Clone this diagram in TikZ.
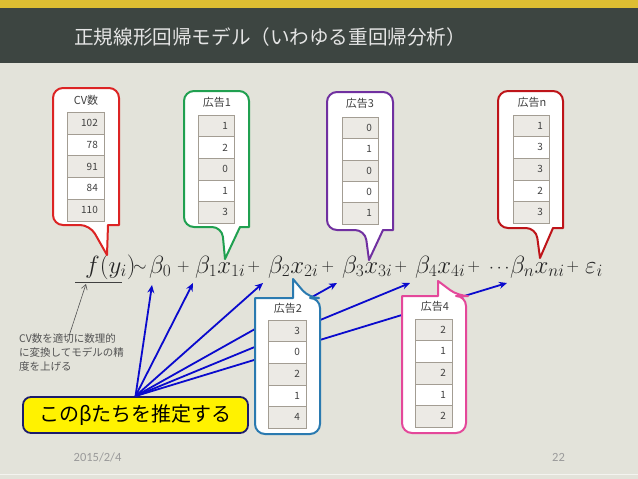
\documentclass[tikz,border=0pt]{standalone}
\usepackage{fontspec}
\setmainfont{Carlito}
\newfontfamily\jp{Noto Sans CJK JP}
\usetikzlibrary{arrows.meta}
\definecolor{bg}{HTML}{E3E3DA}
\definecolor{board}{HTML}{3D4541}
\definecolor{band}{HTML}{DEBE32}
\definecolor{cellgray}{HTML}{ECEAE5}
\definecolor{cellline}{HTML}{A39D93}
\definecolor{txt}{HTML}{404040}
\definecolor{cRed}{HTML}{DC2424}
\definecolor{cDRed}{HTML}{BE1419}
\definecolor{cGreen}{HTML}{20A050}
\definecolor{cPurple}{HTML}{7030A0}
\definecolor{cBlue}{HTML}{2A7AB0}
\definecolor{cPink}{HTML}{E4489A}
\definecolor{arrblue}{HTML}{0A0ACD}
\definecolor{navy}{HTML}{1C1C6C}
\definecolor{foot}{HTML}{9A9A9A}
\tikzset{
  bubble/.style={fill=white, line width=2pt, line join=round},
  cellb/.style={draw=cellline, line width=0.6pt},
  celltext/.style={inner sep=0pt, font=\jp\fontsize{10}{12}\selectfont, text=txt},
  head/.style={inner sep=0pt, font=\jp\fontsize{11}{13}\selectfont, text=txt},
  fterm/.style={inner sep=0pt, anchor=base west, text=black!85, font=\fontsize{23}{26}\selectfont},
  fop/.style={inner sep=0pt, anchor=base west, text=black!85, font=\fontsize{18}{20}\selectfont},
  barrow/.style={draw=arrblue, line width=1.8pt, -{Stealth[length=8pt,width=7pt]}},
  ybox/.style={draw=navy, line width=1.8pt, fill=yellow, rounded corners=8pt,
    minimum width=225pt, minimum height=36pt, inner sep=0pt,
    font=\jp\fontsize{20}{24}\selectfont, text=black},
}
% table: name, xl, xr, ytop, rowh, values
\newcommand{\datatab}[6]{%
  \foreach \v [count=\k] in {#6} {
    \pgfmathsetmacro{\ya}{#4+(\k-1)*#5}
    \pgfmathsetmacro{\yb}{#4+\k*#5}
    \pgfmathtruncatemacro{\odd}{mod(\k,2)}
    \ifnum\odd=1 \def\cf{cellgray}\else\def\cf{white}\fi
    \draw[cellb, fill=\cf] (#2,\ya) rectangle (#3,\yb);
    \node[celltext, anchor=east] (#1-\k) at (#3-6, {(\ya+\yb)/2}) {\v};
  }}
% down-pointing bubble: color, x1,y1,x2,y2, bx1,bx2,tipx,tipy
\newcommand{\bubbledown}[9]{%
  \draw[bubble, draw=#1] (#8,#9) -- (#7,#5) -- (#4,#5) [rounded corners=10pt] -- (#4,#3) -- (#2,#3) -- (#2,#5) -- (#6,#5) [sharp corners] -- cycle;}
% up-pointing bubble: color, x1,y1,x2,y2, bx1,bx2,tipx,tipy
\newcommand{\bubbleup}[9]{%
  \draw[bubble, draw=#1] (#8,#9) -- (#6,#3) -- (#2,#3) [rounded corners=10pt] -- (#2,#5) -- (#4,#5) -- (#4,#3) -- (#7,#3) [sharp corners] -- cycle;}
\begin{document}
\begin{tikzpicture}[x=1pt,y=-1pt]
\useasboundingbox (0,0) rectangle (638,479);
% background
\fill[bg] (0,0) rectangle (638,479);
\fill[band] (0,0) rectangle (638,7.5);
\fill[board] (0,7.5) rectangle (638,63);
\draw[white!60!bg, line width=1pt] (0,474) -- (638,474);
\node[anchor=west, inner sep=0pt, text=white!90!black, font=\jp\fontsize{19.6}{22}\selectfont] (title) at (74,37) {正規線形回帰モデル（いわゆる重回帰分析）};

% formula
\node[fterm] (fy) at (85,273) {$f(y_i)$};
\node[fop] (sim) at (133,271) {$\sim$};
\node[fterm] (b0) at (149,273) {$\beta_0$};
\node[fop] (p1) at (177,271.5) {$+$};
\node[fterm] (b1) at (195,273) {$\beta_1x_{1i}$};
\node[fop] (p2) at (247.5,271.5) {$+$};
\node[fterm] (b2) at (268,273) {$\beta_2x_{2i}$};
\node[fop] (p3) at (321.5,271.5) {$+$};
\node[fterm] (b3) at (342,273) {$\beta_3x_{3i}$};
\node[fop] (p4) at (394.5,271.5) {$+$};
\node[fterm] (b4) at (415,273) {$\beta_4x_{4i}$};
\node[fop] (p5) at (467.5,271.5) {$+$};
\node[fop] (dots) at (489,272) {$\cdots$};
\node[fterm] (bn) at (510,273) {$\beta_nx_{ni}$};
\node[fop] (p6) at (566.5,271.5) {$+$};
\node[fterm] (eps) at (585,273) {$\varepsilon_i$};
\draw[txt, line width=0.8pt] (75,282) -- (122,282);

% annotation
\node[anchor=north west, inner sep=0pt, align=left, text=txt!90!white,
  font=\jp\fontsize{10.5}{14}\selectfont] (note) at (19,333)
  {CV数を適切に数理的\\に変換してモデルの精\\度を上げる};
\coordinate (noteA) at (69,336);
\coordinate (noteB) at (86,284);
\draw[txt!90!white, line width=0.6pt, -{Straight Barb[length=5pt,width=6pt]}] (noteA) -- (noteB);

% estimate box and arrows
\coordinate (t0) at (152,285);
\coordinate (t1) at (193,283);
\coordinate (t2) at (263,283);
\coordinate (t3) at (337,283);
\coordinate (t4) at (410,283);
\coordinate (tn) at (507,283);
\node[ybox] (est) at (135.5,415) {このβたちを推定する};
\foreach \t in {t0,t1,t2,t3,t4,tn} \draw[barrow] (est.north) -- (\t);

% top bubbles
\bubbledown{cRed}{53}{88}{119}{225}{90}{108}{107}{255}
\node[head] (hcv) at (86,100) {CV数};
\datatab{cv}{67}{104}{112}{21.8}{102,78,91,84,110}

\bubbledown{cGreen}{184}{91}{249}{227}{222}{240}{225}{259}
\node[head] (h1) at (217,102) {広告1};
\datatab{a1}{198}{234}{115}{21.6}{1,2,0,1,3}

\bubbledown{cPurple}{327}{92}{393}{230}{365}{383}{369}{260}
\node[head] (h3) at (360,103) {広告3};
\datatab{a3}{342}{378}{117}{21.4}{0,1,0,0,1}

\bubbledown{cDRed}{498}{91}{563}{228}{536}{553}{540}{258}
\node[head] (hn) at (532,102) {広告n};
\datatab{an}{513}{549}{115}{21.6}{1,3,3,2,3}

% bottom bubbles
\bubbleup{cBlue}{255}{298}{320}{434}{293}{309}{293}{279}
\node[head] (h2) at (288,308) {広告2};
\datatab{a2}{268}{306}{320}{21.6}{3,0,2,1,4}

\bubbleup{cPink}{402}{296}{466}{433}{438}{458}{438}{281}
\node[head] (h4) at (435,306) {広告4};
\datatab{a4}{415}{452}{319}{21.6}{2,1,2,1,2}

% footer
\node[inner sep=0pt, text=foot, font=\fontsize{12.5}{14}\selectfont] (date) at (97.5,457) {2015/2/4};
\node[inner sep=0pt, text=foot, font=\fontsize{12.5}{14}\selectfont] (page) at (558.5,457) {22};
\end{tikzpicture}
\end{document}
